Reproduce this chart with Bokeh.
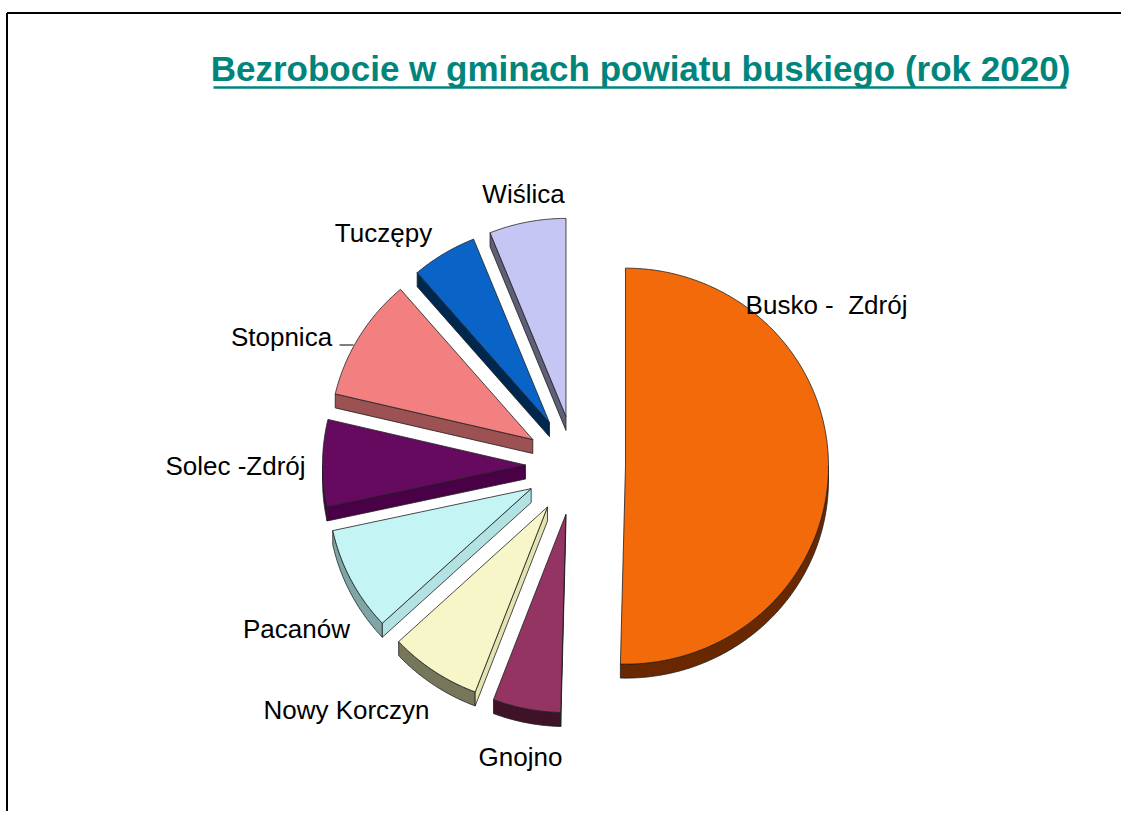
import numpy as np
from bokeh.plotting import figure
from bokeh.models import Range1d, ColumnDataSource
from bokeh.core.properties import value
from bokeh.embed import file_html
from bokeh.resources import INLINE

# ---------------- data (shares of unemployed, %) ----------------
names = ["Busko - \u00a0Zdrój", "Gnojno", "Nowy Korczyn", "Pacanów",
         "Solec -Zdrój", "Stopnica", "Tuczępy", "Wiślica"]
shares = [50.4, 5.4, 7.3, 8.5, 7.1, 10.0, 5.2, 6.1]

title_text = "Bezrobocie w gminach powiatu buskiego (rok 2020)"

# ---------------- styles ----------------
top_colors = ["#F26A0A", "#943463", "#F6F6C8", "#C4F4F4",
              "#660A60", "#F28080", "#0A64C8", "#C6C6F4"]
arc_side_colors = ["#6A2800", "#3F1228", "#76765A", "#7EA6A6",
                   "#4A0046", "#9A5050", "#00284F", "#5F5F78"]
rad_side_colors = ["#6A2800", "#3F1228", "#E4E4B2", "#B2E2E2",
                   "#4A0046", "#9C5252", "#00284F", "#5F5F78"]

# label anchor positions (page pixels)
label_x = [826, 520, 346, 296, 235, 281, 383, 523]
label_y = [304, 756, 709, 628, 465, 336, 232, 193]

W, H = 1121, 811
CX, CY = 575, 465          # pie centre
RX, RY = 203, 198          # radii
EXPLODE = 50
DEPTH = 14

p = figure(width=W, height=H, output_backend="svg", toolbar_location=None,
           x_range=Range1d(0, W), y_range=Range1d(H, 0),
           x_axis_type=None, y_axis_type=None, min_border=0)
p.grid.visible = False
p.outline_line_color = None
p.background_fill_color = "white"
p.border_fill_color = "white"

# frame lines (slide border)
p.line(x=[6.5, W], y=[12.5, 12.5], line_color="black", line_width=2)
p.line(x=[6.5, 6.5], y=[12.5, H], line_color="black", line_width=2)

total = float(sum(shares))
side_xs, side_ys, side_cols = [], [], []
top_xs, top_ys, top_cols = [], [], []

def pt(ax, ay, th, dy=0.0):
    r = np.radians(th)
    return ax + RX * np.cos(r), ay - RY * np.sin(r) + dy

start = 90.0
for i, s in enumerate(shares):
    sweep = s / total * 360.0
    a1 = start
    a0 = start - sweep
    m = np.radians((a0 + a1) / 2)
    ax = CX + EXPLODE * np.cos(m)
    ay = CY - EXPLODE * np.sin(m)
    n = max(8, int(sweep * 2))
    th = np.linspace(a0, a1, n)
    arc_x = ax + RX * np.cos(np.radians(th))
    arc_y = ay - RY * np.sin(np.radians(th))

    # outer curved face (visible where the rim faces downwards)
    for k in range(-2, 2):
        lo = max(a0, 180 + 360 * k)
        hi = min(a1, 360 + 360 * k)
        if hi > lo:
            t = np.linspace(lo, hi, max(4, int((hi - lo) * 2)))
            fx = ax + RX * np.cos(np.radians(t))
            fy = ay - RY * np.sin(np.radians(t))
            side_xs.append(list(fx) + list(fx[::-1]))
            side_ys.append(list(fy) + list((fy + DEPTH)[::-1]))
            side_cols.append(arc_side_colors[i])

    # radial faces
    for edge, normal in ((a0, a0 - 90), (a1, a1 + 90)):
        if np.sin(np.radians(normal)) < -0.02:
            ex, ey = pt(ax, ay, edge)
            side_xs.append([ax, ex, ex, ax])
            side_ys.append([ay, ey, ey + DEPTH, ay + DEPTH])
            side_cols.append(rad_side_colors[i])

    top_xs.append([ax] + list(arc_x))
    top_ys.append([ay] + list(arc_y))
    top_cols.append(top_colors[i])
    start = a0

p.patches(xs=side_xs, ys=side_ys, fill_color=side_cols,
          line_color="#1E1E1E", line_width=0.8)
p.patches(xs=top_xs, ys=top_ys, fill_color=top_cols,
          line_color="#1E1E1E", line_width=0.8)

# leader line for Stopnica
p.line(x=[339, 353], y=[344.5, 344.5], line_color="black", line_width=1)

# labels
lab = ColumnDataSource(dict(x=label_x, y=label_y, t=names))
p.text(x="x", y="y", text="t", source=lab, text_align="center",
       text_baseline="alphabetic", text_font=value("Liberation Sans"),
       text_font_size="26px", text_color="black")

# title with underline
p.text(x=[640], y=[68], text=[title_text], text_align="center",
       text_baseline="alphabetic", text_font=value("Liberation Sans"),
       text_font_size="35px", text_font_style="bold", text_color="#00857D")
p.line(x=[213, 1066], y=[87, 87], line_color="#00857D", line_width=2.5)

open("out.html", "w").write(file_html(p, INLINE))
